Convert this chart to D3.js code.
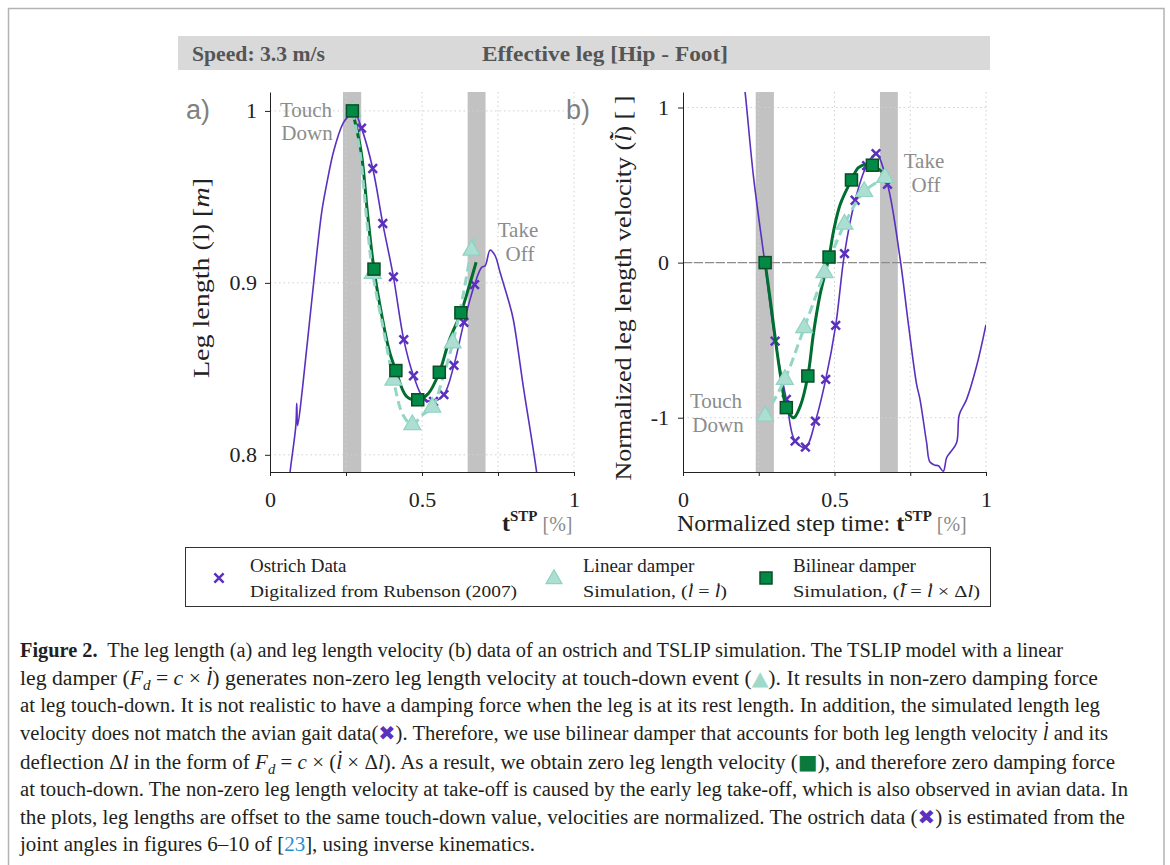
<!DOCTYPE html>
<html>
<head>
<meta charset="utf-8">
<script src="https://cdn.jsdelivr.net/npm/d3@7"></script>
<style>
  body { margin: 0; background: #fff; }
  svg text { font-family: "Liberation Serif", serif; white-space: pre; }
</style>
</head>
<body>
<script>
// ---------- data ----------
const tickT = [0, 0.25, 0.5, 0.75, 1];
const tickTLabels = ["0", "", "0.5", "", "1"];
const lenTicks = [0.8, 0.9, 1];
const lenTickLabels = ["0.8", "0.9", "1"];
const velTicks = [-1, 0, 1];
const velTickLabels = ["-1", "0", "1"];
const touchDownBand = [0.24, 0.30];
const takeOffBand = [0.65, 0.709];

// (a) leg length, ostrich curve + samples
const ostrichLenLineT = [0.055, 0.066, 0.085, 0.088, 0.091, 0.108, 0.137, 0.17, 0.186, 0.21, 0.241, 0.265, 0.275, 0.301, 0.338, 0.371, 0.406, 0.44, 0.472, 0.505, 0.538, 0.572, 0.605, 0.638, 0.673, 0.696, 0.708, 0.724, 0.74, 0.757, 0.784, 0.80, 0.833, 0.877, 0.89];
const ostrichLenLine  = [0.77, 0.79, 0.817, 0.830, 0.817, 0.8405, 0.889, 0.941, 0.957, 0.977, 0.993, 0.9985, 1.0005, 0.990, 0.9665, 0.9345, 0.9035, 0.867, 0.846, 0.833, 0.831, 0.835, 0.852, 0.877, 0.899, 0.909, 0.910, 0.919, 0.916, 0.906, 0.89, 0.879, 0.84, 0.79, 0.77];
const ostrichLenMarkT = [0.27, 0.301, 0.338, 0.371, 0.406, 0.44, 0.472, 0.505, 0.538, 0.572, 0.605, 0.638, 0.673];
const ostrichLenMark  = [1.0, 0.990, 0.9665, 0.9345, 0.9035, 0.867, 0.846, 0.833, 0.831, 0.835, 0.852, 0.877, 0.899];

// (a) linear damper
const linearLenT = [0.271, 0.338, 0.406, 0.468, 0.534, 0.601, 0.663];
const linearLen  = [1.0, 0.9055, 0.8434, 0.8175, 0.8276, 0.865, 0.919];
const linearLenLineT = [0.271, 0.296, 0.318, 0.338, 0.372, 0.406, 0.438, 0.468, 0.50, 0.534, 0.569, 0.601, 0.632, 0.663, 0.674];
const linearLenLine  = [1.0, 0.976, 0.937, 0.9055, 0.874, 0.8434, 0.823, 0.8175, 0.823, 0.8276, 0.845, 0.865, 0.89, 0.919, 0.926];

// (a) bilinear damper
const bilinearLenT = [0.271, 0.342, 0.414, 0.486, 0.557, 0.628];
const bilinearLen  = [1.0, 0.908, 0.849, 0.832, 0.848, 0.8826];
const bilinearLenLineT = [0.271, 0.30, 0.321, 0.342, 0.37, 0.393, 0.414, 0.449, 0.486, 0.521, 0.557, 0.59, 0.628, 0.655, 0.678];
const bilinearLenLine  = [1.0, 0.976, 0.94, 0.908, 0.879, 0.86, 0.849, 0.834, 0.832, 0.8357, 0.848, 0.8667, 0.8826, 0.898, 0.912];

// (b) normalized leg length velocity, ostrich
const ostrichVelLineT = [0.195, 0.205, 0.233, 0.27, 0.304, 0.341, 0.37, 0.404, 0.437, 0.471, 0.504, 0.533, 0.568, 0.606, 0.637, 0.675, 0.716, 0.744, 0.771, 0.782, 0.804, 0.815, 0.832, 0.843, 0.859, 0.87, 0.881, 0.903, 0.912, 0.936, 0.969, 1.0];
const ostrichVelLine  = [1.25, 1.097, 0.548, 0.0, -0.506, -0.882, -1.151, -1.19, -1.022, -0.753, -0.405, 0.058, 0.402, 0.625, 0.703, 0.505, 0.032, -0.398, -0.785, -0.88, -1.161, -1.286, -1.306, -1.31, -1.345, -1.258, -1.226, -1.161, -0.979, -0.882, -0.667, -0.40];
const ostrichVelMarkT = [0.27, 0.304, 0.341, 0.37, 0.404, 0.437, 0.471, 0.504, 0.533, 0.568, 0.606, 0.637, 0.675];
const ostrichVelMark  = [0.0, -0.506, -0.882, -1.151, -1.19, -1.022, -0.753, -0.405, 0.058, 0.402, 0.625, 0.703, 0.505];

// (b) linear damper
const linearVelT = [0.271, 0.336, 0.40, 0.467, 0.533, 0.598, 0.667];
const linearVel  = [-0.99, -0.753, -0.42, -0.065, 0.247, 0.458, 0.548];

// (b) bilinear damper
const bilinearVelT = [0.271, 0.341, 0.412, 0.482, 0.556, 0.625];
const bilinearVel  = [0.0, -0.935, -0.731, 0.036, 0.533, 0.628];
const bilinearVelLineT = [0.271, 0.29, 0.31, 0.326, 0.341, 0.365, 0.387, 0.412, 0.431, 0.453, 0.482, 0.497, 0.519, 0.556, 0.579, 0.607, 0.625, 0.656];
const bilinearVelLine  = [0.0, -0.27, -0.57, -0.78, -0.935, -1.0, -0.925, -0.731, -0.45, -0.2, 0.036, 0.204, 0.376, 0.533, 0.613, 0.634, 0.628, 0.587];

const captionLines = [
  [["Figure 2.", "b"], ["  The leg length (a) and leg length velocity (b) data of an ostrich and TSLIP simulation. The TSLIP model with a linear"]],
  [["leg damper ("], ["F", "i"], ["d", "sub"], [" = "], ["c", "i"], [" × "], ["l̇", "i"], [") generates non-zero leg length velocity at touch-down event ("], ["▲", "tri"], ["). It results in non-zero damping force"]],
  [["at leg touch-down. It is not realistic to have a damping force when the leg is at its rest length. In addition, the simulated length leg"]],
  [["velocity does not match the avian gait data("], ["✖", "x"], ["). Therefore, we use bilinear damper that accounts for both leg length velocity "], ["l̇", "i"], [" and its"]],
  [["deflection Δ"], ["l", "i"], [" in the form of "], ["F", "i"], ["d", "sub"], [" = "], ["c", "i"], [" × ("], ["l̇", "i"], [" × Δ"], ["l", "i"], ["). As a result, we obtain zero leg length velocity ("], ["■", "sq"], ["), and therefore zero damping force"]],
  [["at touch-down. The non-zero leg length velocity at take-off is caused by the early leg take-off, which is also observed in avian data. In"]],
  [["the plots, leg lengths are offset to the same touch-down value, velocities are normalized. The ostrich data ("], ["✖", "x"], [") is estimated from the"]],
  [["joint angles in figures 6–10 of ["], ["23", "link"], ["], using inverse kinematics."]]
];
const captionEnds = [1063, 1098, 1100, 1108, 1115, 1128, 1125, 535];

// ---------- page ----------
const w = 1170, h = 865;
const purple = "#5b30bf", green = "#008a45", greenLine = "#006e30", teal = "#93d6c5";

const svg = d3.select("body").append("svg")
  .attr("width", w).attr("height", h);

svg.append("rect").attr("x", 8.5).attr("y", 8.5).attr("width", 1155.5).attr("height", 900)
  .attr("fill", "none").attr("stroke", "#b3b3b3").attr("stroke-width", 1.5);

// header bar
svg.append("rect").attr("x", 178).attr("y", 36).attr("width", 812).attr("height", 34).attr("fill", "#d9d9d9");
svg.append("text").attr("x", 192).attr("y", 61).text("Speed: 3.3 m/s")
  .attr("textLength", 133).attr("lengthAdjust", "spacingAndGlyphs")
  .style("font-weight", "bold").style("font-size", "22px").attr("fill", "#555");
svg.append("text").attr("x", 482).attr("y", 61).text("Effective leg [Hip - Foot]")
  .attr("textLength", 246).attr("lengthAdjust", "spacingAndGlyphs")
  .style("font-weight", "bold").style("font-size", "22px").attr("fill", "#555");

const zip = (a, b) => a.map((d, i) => [d, b[i]]);

function xMark(g, pts, x, y, r = 4.3) {
  g.selectAll(null).data(pts).enter().append("path")
    .attr("d", d => {
      const cx = x(d[0]), cy = y(d[1]);
      return `M${cx - r},${cy - r}L${cx + r},${cy + r}M${cx - r},${cy + r}L${cx + r},${cy - r}`;
    })
    .attr("stroke", purple).attr("stroke-width", 2.5).attr("fill", "none");
}
function triMark(g, pts, x, y, size = 125) {
  g.selectAll(null).data(pts).enter().append("path")
    .attr("d", d3.symbol(d3.symbolTriangle).size(size))
    .attr("transform", d => `translate(${x(d[0])},${y(d[1])})`)
    .attr("fill", "#acdfd2").attr("stroke", "#8fd3c1").attr("stroke-width", 1.2);
}
function sqMark(g, pts, x, y) {
  g.selectAll(null).data(pts).enter().append("rect")
    .attr("x", d => x(d[0]) - 6).attr("y", d => y(d[1]) - 6)
    .attr("width", 12).attr("height", 12)
    .attr("fill", green).attr("stroke", "#0b4d26").attr("stroke-width", 1.5);
}

function panel(o) {
  const x = d3.scaleLinear().domain([0, 1]).range([o.left, o.right]);
  const y = d3.scaleLinear().domain(o.yDomain).range([472, 92]);
  const g = svg.append("g");

  g.append("clipPath").attr("id", o.id).append("rect")
    .attr("x", o.left).attr("y", 92).attr("width", o.right - o.left).attr("height", 380);

  // stance event bands
  [touchDownBand, takeOffBand].forEach(b => {
    g.append("rect").attr("x", x(b[0])).attr("y", 92).attr("width", x(b[1]) - x(b[0])).attr("height", 380)
      .attr("fill", "#c2c2c2");
  });

  // dotted grid
  g.selectAll(null).data(tickT.slice(1)).enter().append("line")
    .attr("x1", d => x(d)).attr("x2", d => x(d)).attr("y1", 92).attr("y2", 472)
    .attr("stroke", "#d0d0d0").attr("stroke-dasharray", "1.5,3");
  g.selectAll(null).data(o.yTicks).enter().append("line")
    .attr("x1", o.left).attr("x2", o.right).attr("y1", d => y(d)).attr("y2", d => y(d))
    .attr("stroke", "#d0d0d0").attr("stroke-dasharray", "1.5,3");
  if (o.zeroLine) {
    g.append("line").attr("x1", o.left).attr("x2", o.right).attr("y1", y(0)).attr("y2", y(0))
      .attr("stroke", "#8c8c8c").attr("stroke-width", 1.2).attr("stroke-dasharray", "9,2");
  }

  const line = d3.line().x(d => x(d[0])).y(d => y(d[1])).curve(d3.curveCatmullRom.alpha(0.5));
  const plot = g.append("g").attr("clip-path", `url(#${o.id})`);

  plot.append("path").datum(o.ostrichLine).attr("d", line)
    .attr("fill", "none").attr("stroke", purple).attr("stroke-width", 1.6);
  xMark(plot, o.ostrichMarks, x, y);
  plot.append("path").datum(o.bilinearLine).attr("d", line)
    .attr("fill", "none").attr("stroke", greenLine).attr("stroke-width", 3);
  plot.append("path").datum(o.linearLine).attr("d", line)
    .attr("fill", "none").attr("stroke", teal).attr("stroke-width", 3).attr("stroke-dasharray", "9,5");
  triMark(g, o.linearMarks, x, y);
  sqMark(g, o.bilinearMarks, x, y);

  // axes
  const ax = g.append("g").attr("transform", `translate(0,472)`)
    .call(d3.axisBottom(x).tickValues(tickT).tickFormat((d, i) => tickTLabels[i]).tickSize(4).tickSizeOuter(0));
  ax.selectAll("text").attr("y", 19).style("font-size", "22px").attr("fill", "#222");
  const ay = g.append("g").attr("transform", `translate(${o.left},0)`)
    .call(d3.axisLeft(y).tickValues(o.yTicks).tickFormat((d, i) => o.yTickLabels[i]).tickSize(5).tickSizeOuter(0));
  ay.selectAll("text").attr("x", o.tickLabelX).style("font-size", "22px").attr("fill", "#222");
  [ax, ay].forEach(a => {
    a.select(".domain").attr("stroke", "#222");
    a.selectAll(".tick line").attr("stroke", "#222");
    a.selectAll("text").style("font-family", "Liberation Serif");
  });
  return { x, y };
}

panel({
  id: "clipA", left: 270, right: 574, yDomain: [0.79, 1.011], yTicks: lenTicks, yTickLabels: lenTickLabels,
  tickLabelX: -13,
  ostrichLine: zip(ostrichLenLineT, ostrichLenLine), ostrichMarks: zip(ostrichLenMarkT, ostrichLenMark),
  linearLine: zip(linearLenLineT, linearLenLine), linearMarks: zip(linearLenT, linearLen),
  bilinearLine: zip(bilinearLenLineT, bilinearLenLine), bilinearMarks: zip(bilinearLenT, bilinearLen)
});
panel({
  id: "clipB", left: 683, right: 986, yDomain: [-1.35, 1.1], yTicks: velTicks, yTickLabels: velTickLabels,
  tickLabelX: -14, zeroLine: true,
  ostrichLine: zip(ostrichVelLineT, ostrichVelLine), ostrichMarks: zip(ostrichVelMarkT, ostrichVelMark),
  linearLine: zip(linearVelT, linearVel), linearMarks: zip(linearVelT, linearVel),
  bilinearLine: zip(bilinearVelLineT, bilinearVelLine), bilinearMarks: zip(bilinearVelT, bilinearVel)
});

// panel letters
svg.append("text").attr("x", 186).attr("y", 119).text("a)")
  .style("font-family", "Liberation Sans").style("font-size", "27px").attr("fill", "#808080");
svg.append("text").attr("x", 566).attr("y", 119).text("b)")
  .style("font-family", "Liberation Sans").style("font-size", "27px").attr("fill", "#808080");

// event annotations
const notes = [
  ["Touch", 306, 117], ["Down", 307, 140], ["Take", 518, 237], ["Off", 520, 261],
  ["Take", 924, 168], ["Off", 926, 192], ["Touch", 716, 408], ["Down", 718, 432]
];
svg.selectAll(null).data(notes).enter().append("text")
  .attr("x", d => d[1]).attr("y", d => d[2]).attr("text-anchor", "middle").text(d => d[0])
  .style("font-size", "21px").attr("fill", "#8c8c8c");

// axis titles
svg.append("text").attr("transform", "translate(209,278) rotate(-90)").attr("text-anchor", "middle")
  .attr("textLength", 200).attr("lengthAdjust", "spacingAndGlyphs")
  .style("font-size", "24px").attr("fill", "#222")
  .html('Leg length (l) [<tspan font-style="italic">m</tspan>]');
svg.append("text").attr("transform", "translate(631,288) rotate(-90)").attr("text-anchor", "middle")
  .attr("textLength", 385).attr("lengthAdjust", "spacingAndGlyphs")
  .style("font-size", "24px").attr("fill", "#222")
  .html('Normalized leg length velocity (<tspan font-style="italic">l̃̇</tspan>) [ ]');

function stpLabel(x0, prefix) {
  const t = svg.append("text").attr("x", x0).attr("y", 531).style("font-size", "24px").attr("fill", "#222");
  if (prefix) t.append("tspan").text(prefix);
  t.append("tspan").text("t").style("font-weight", "bold");
  t.append("tspan").text("STP").style("font-weight", "bold").style("font-size", "15px").attr("dy", -10);
  t.append("tspan").text(" [%]").attr("dy", 10).style("font-size", "20px").attr("fill", "#8a8a8a");
}
stpLabel(502, null);
stpLabel(677, "Normalized step time: ");

// legend
svg.append("rect").attr("x", 185.5).attr("y", 547.5).attr("width", 805).attr("height", 59)
  .attr("fill", "#fff").attr("stroke", "#333").attr("stroke-width", 1);
const lg = svg.append("g");
const ident = d3.scaleLinear();
xMark(lg, [[219, 578]], ident, ident, 4.6);
triMark(lg, [[554, 579]], ident, ident, 110);
sqMark(lg, [[766, 578]], ident, ident);
const legendText = [
  ["Ostrich Data", 250, 572, 19, null],
  ["Digitalized from Rubenson (2007)", 250, 597, 17, 267],
  ["Linear damper", 583, 572, 19, null],
  ["Simulation, (<tspan font-style='italic'>l̇</tspan> = <tspan font-style='italic'>l̇</tspan>)", 583, 597, 17, 144],
  ["Bilinear damper", 793, 572, 19, null],
  ["Simulation, (<tspan font-style='italic'>l̃̇</tspan> = <tspan font-style='italic'>l̇</tspan> × Δ<tspan font-style='italic'>l</tspan>)", 793, 597, 17, 187]
];
legendText.forEach(d => {
  const t = svg.append("text").attr("x", d[1]).attr("y", d[2]).style("font-size", d[3] + "px").attr("fill", "#222").html(d[0]);
  if (d[4]) t.attr("textLength", d[4]).attr("lengthAdjust", "spacingAndGlyphs");
});

// caption
const capY = [657, 685, 712, 740, 769, 796, 824, 851];
captionLines.forEach((segs, i) => {
  const t = svg.append("text").attr("x", 20).attr("y", capY[i])
    .attr("textLength", captionEnds[i] - 20).attr("lengthAdjust", "spacingAndGlyphs")
    .style("font-size", "20px").attr("fill", "#231f20");
  let shift = 0;
  segs.forEach(s => {
    const sp = t.append("tspan").text(s[0]);
    const k = s[1];
    let dy = 0;
    if (k === "sub") { dy = 5; sp.style("font-style", "italic").style("font-size", "14px"); }
    if (k === "b") sp.style("font-weight", "bold");
    if (k === "i") sp.style("font-style", "italic");
    if (k === "tri") sp.attr("fill", "#9fd9ca").style("font-family", "DejaVu Sans");
    if (k === "x") sp.attr("fill", purple).style("font-family", "DejaVu Sans");
    if (k === "sq") sp.attr("fill", "#0a7a3c").style("font-family", "DejaVu Sans");
    if (k === "link") sp.attr("fill", "#1b8fd6");
    if (dy - shift !== 0) sp.attr("dy", dy - shift);
    shift = dy;
  });
});
</script>
</body>
</html>
